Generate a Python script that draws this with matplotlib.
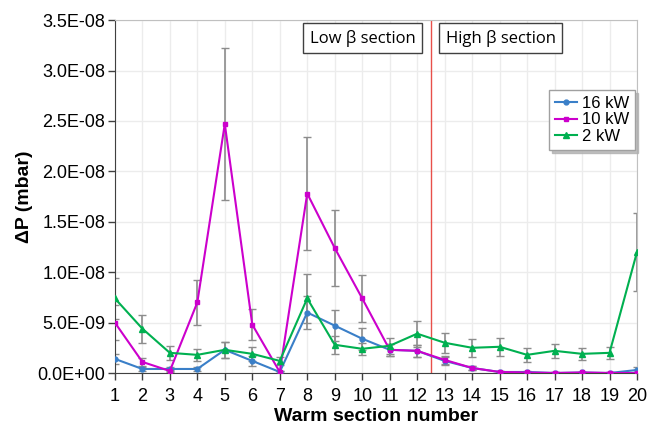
import numpy as np
import matplotlib
matplotlib.use('Agg')
import matplotlib.pyplot as plt
from matplotlib.ticker import FuncFormatter, MultipleLocator

# data (units: 1E-9 mbar)
sections = np.arange(1, 21)
p16 = [1.4, 0.4, 0.4, 0.4, 2.3, 1.2, 0.1, 6.0, 4.7, 3.4, 2.3, 2.2, 1.2, 0.5, 0.1, 0.1, 0.0, 0.05, 0.0, 0.3]
e16 = [0.5, 0.2, 0.2, 0.2, 0.8, 0.5, 0.1, 1.6, 1.5, 1.1, 0.6, 0.6, 0.4, 0.2, 0.1, 0.1, 0.05, 0.05, 0.05, 0.3]
p10 = [5.0, 1.1, 0.2, 7.0, 24.7, 4.8, 0.1, 17.8, 12.4, 7.4, 2.3, 2.2, 1.3, 0.5, 0.1, 0.05, 0.0, 0.05, 0.0, 0.0]
e10 = [1.7, 0.4, 0.1, 2.2, 7.5, 1.5, 0.1, 5.6, 3.8, 2.3, 0.6, 0.6, 0.4, 0.2, 0.05, 0.05, 0.05, 0.05, 0.05, 0.05]
p2 = [7.4, 4.4, 2.0, 1.8, 2.3, 1.9, 1.2, 7.4, 2.8, 2.4, 2.7, 3.9, 3.0, 2.5, 2.6, 1.8, 2.2, 1.9, 2.0, 12.0]
e2 = [2.0, 1.4, 0.7, 0.6, 0.8, 0.7, 0.4, 2.4, 0.9, 0.6, 0.8, 1.3, 1.0, 0.9, 0.9, 0.7, 0.7, 0.6, 0.6, 3.9]
labels = ['16 kW', '10 kW', '2 kW']
split_at = 12.5

plt.rcParams['font.family'] = ['Liberation Sans', 'DejaVu Sans']

fig = plt.figure(figsize=(6.49, 4.28), dpi=100)
ax = fig.add_axes([0.177, 0.1285, 0.8045, 0.8245])

series = [(p16, e16, '#3a7fc8', 'o', 3.5),
          (p10, e10, '#cc00cc', 's', 3.5),
          (p2, e2, '#00b050', '^', 4.5)]
for (vals, errs, col, mk, ms), lab in zip(series, labels):
    v = np.array(vals) * 1e-9
    e = np.array(errs) * 1e-9
    ax.errorbar(sections, v, yerr=e, fmt='none', ecolor='#8c8c8c', elinewidth=1.2,
                capsize=3, capthick=1.0, zorder=2)
    ax.plot(sections, v, color=col, marker=mk, markersize=ms, lw=1.5, label=lab, zorder=3)

ax.axvline(split_at, color='#e8504a', lw=1.0, zorder=1)

ax.set_xlim(1, 20)
ax.set_ylim(0, 3.5e-8)
ax.set_xticks(sections)
ax.yaxis.set_major_locator(MultipleLocator(5e-9))
ax.yaxis.set_major_formatter(FuncFormatter(lambda v, p: '%.1E' % v))
ax.tick_params(axis='both', labelsize=13, direction='out', length=5, color='#404040', width=1)
ax.tick_params(axis='y', pad=2)
ax.tick_params(axis='x', pad=6)
ax.grid(True, color='#ececec', lw=1.0, zorder=0)
ax.set_axisbelow(True)
for s in ['top', 'right']:
    ax.spines[s].set_color('#c0c0c0')
for s in ['left', 'bottom']:
    ax.spines[s].set_color('#404040')

ax.set_xlabel('Warm section number', fontsize=14, fontweight='bold', labelpad=2)
ax.set_ylabel('ΔP (mbar)', fontsize=14, fontweight='bold', labelpad=3)

box = dict(boxstyle='square,pad=0.4', facecolor='white', edgecolor='#404040', lw=1.0)
ax.text(0.475, 0.949, 'Low β section', transform=ax.transAxes, ha='center', va='center',
        fontsize=12, family=['Open Sans', 'DejaVu Sans'], bbox=box)
ax.text(0.739, 0.949, 'High β section', transform=ax.transAxes, ha='center', va='center',
        fontsize=12, family=['Open Sans', 'DejaVu Sans'], bbox=box)

leg = ax.legend(loc='upper right', bbox_to_anchor=(0.997, 0.802),
                fontsize=12, frameon=True, fancybox=False,
                shadow={'color': '#b0b0b0', 'alpha': 0.8},
                handlelength=1.3, handletextpad=0.35, labelspacing=0.1,
                borderpad=0.35, borderaxespad=0, edgecolor='#a0a0a0', framealpha=1)
leg.get_frame().set_linewidth(1.0)

fig.savefig('out.png', dpi=100)
